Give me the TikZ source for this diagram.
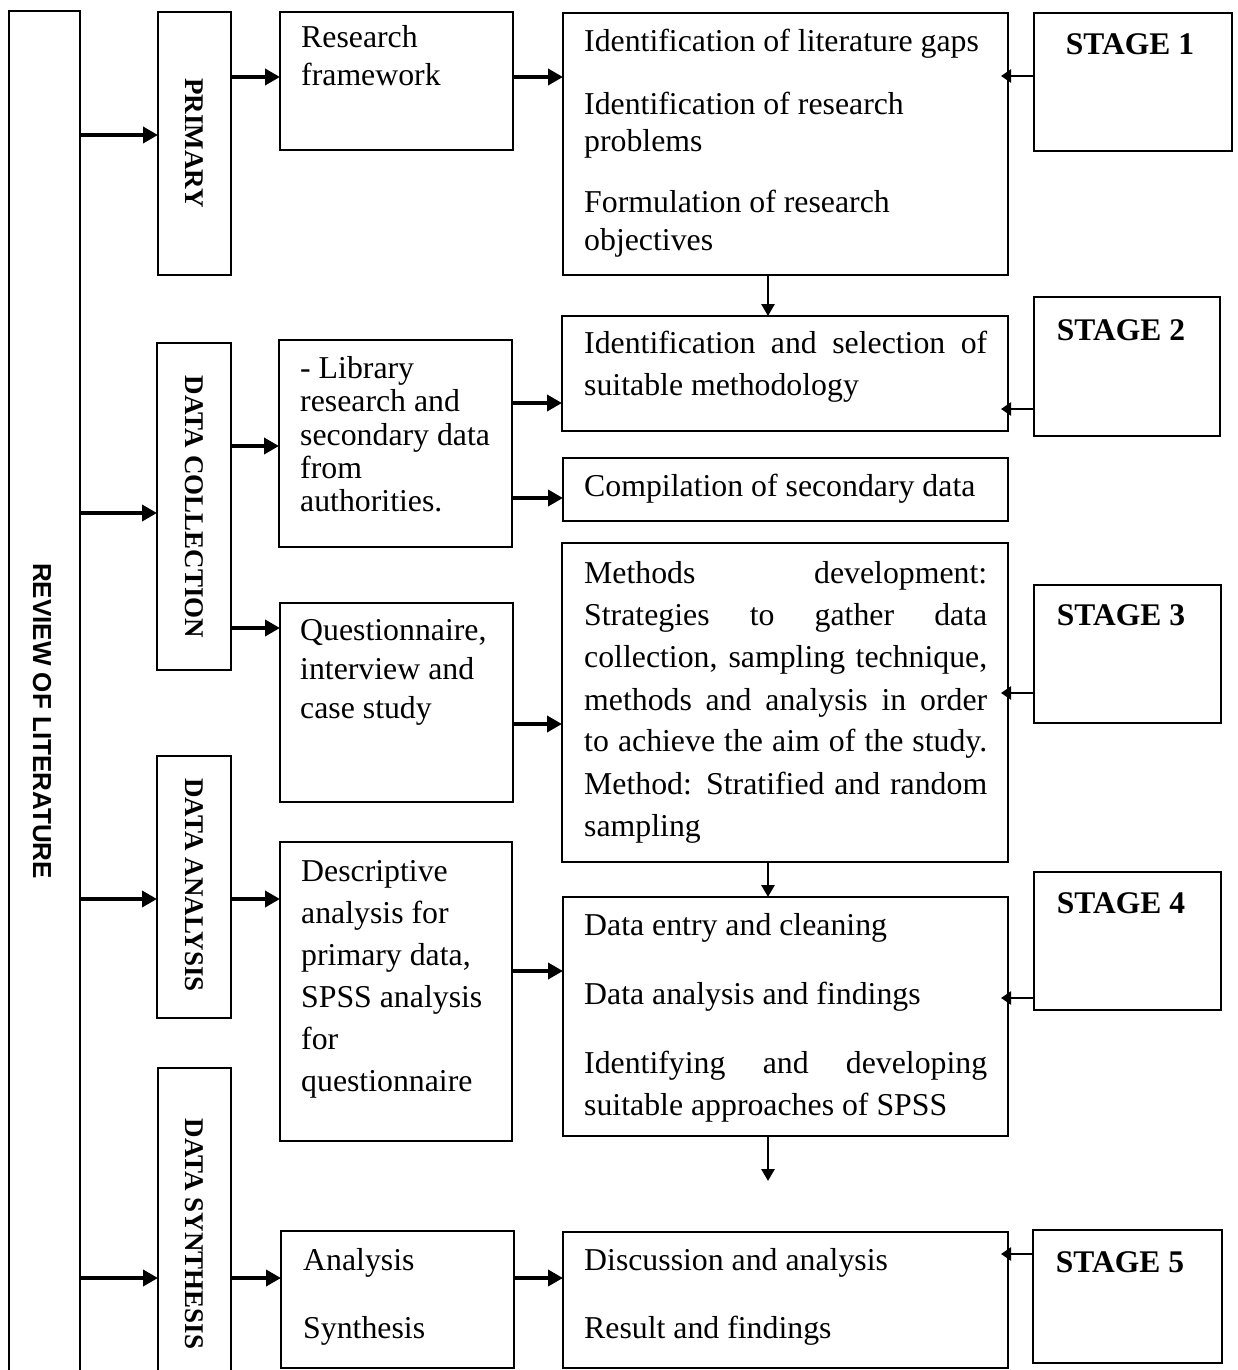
\documentclass[tikz,border=0pt]{standalone}
\usepackage{fontspec}
\setmainfont{Liberation Serif}
\newfontfamily\arialfont{Liberation Sans}
\usetikzlibrary{arrows.meta}
\begin{document}
\begin{tikzpicture}[x=1pt,y=-1pt,
  bx/.style={draw, line width=1.9pt, inner sep=0pt, outer sep=0pt},
  arr/.style={line width=3.6pt, -{Triangle[length=15pt,width=16pt]}},
  sarr/.style={line width=2.2pt, -{Triangle[length=10pt,width=13pt]}, shorten >=-7pt},
  darr/.style={line width=2.8pt, -{Triangle[length=12pt,width=13pt]}},
  txt/.style={font=\fontsize{31.8}{38}\selectfont, inner sep=0pt, anchor=west, text height=23pt, text depth=7pt},
  stg/.style={font=\bfseries\fontsize{31.5}{38}\selectfont, inner sep=0pt},
  vlab/.style={font=\bfseries\fontsize{27}{32}\selectfont, rotate=-90, inner sep=0pt},
  rlab/.style={font=\arialfont\bfseries\fontsize{26}{30}\selectfont, rotate=-90, inner sep=0pt}
]
\useasboundingbox (0,0) rectangle (1238,1370);
\fill[white] (0,0) rectangle (1238,1370);
\clip (0,0) rectangle (1238,1370);

% boxes
\node[bx, minimum width=71pt,  minimum height=1409pt] (rev)  at (44.5,715.5) {};
\node[bx, minimum width=73pt,  minimum height=263pt]  (prim) at (194.5,143.5) {};
\node[bx, minimum width=74pt,  minimum height=327pt]  (dcol) at (194,506.5) {};
\node[bx, minimum width=74pt,  minimum height=262pt]  (dana) at (194,887) {};
\node[bx, minimum width=73pt,  minimum height=352pt]  (dsyn) at (194.5,1244) {};

\node[bx, minimum width=233pt, minimum height=138pt]  (rf)   at (396.5,81) {};
\node[bx, minimum width=233pt, minimum height=207pt]  (lib)  at (395.5,443.5) {};
\node[bx, minimum width=233pt, minimum height=199pt]  (ques) at (396.5,702.5) {};
\node[bx, minimum width=232pt, minimum height=299pt]  (desc) at (396,991.5) {};
\node[bx, minimum width=233pt, minimum height=137pt]  (anl)  at (397.5,1299.5) {};

\node[bx, minimum width=445pt, minimum height=262pt]  (b1)   at (785.5,144) {};
\node[bx, minimum width=446pt, minimum height=115pt]  (b2)   at (785,373.5) {};
\node[bx, minimum width=445pt, minimum height=63pt]   (comp) at (785.5,489.5) {};
\node[bx, minimum width=446pt, minimum height=319pt]  (b3)   at (785,702.5) {};
\node[bx, minimum width=445pt, minimum height=239pt]  (b4)   at (785.5,1016.5) {};
\node[bx, minimum width=445pt, minimum height=136pt]  (b5)   at (785.5,1300) {};

\node[bx, minimum width=198pt, minimum height=138pt]  (st1)  at (1133,82) {};
\node[bx, minimum width=186pt, minimum height=139pt]  (st2)  at (1127,366.5) {};
\node[bx, minimum width=187pt, minimum height=138pt]  (st3)  at (1127.5,654) {};
\node[bx, minimum width=187pt, minimum height=138pt]  (st4)  at (1127.5,941) {};
\node[bx, minimum width=189pt, minimum height=133pt]  (st5)  at (1127.5,1296.5) {};

% vertical labels
\node[rlab] (lrev) at (42,721) {REVIEW OF LITERATURE};
\node[vlab] (lprim) at (194.5,143) {PRIMARY};
\node[vlab] (ldcol) at (194,507) {DATA COLLECTION};
\node[vlab] (ldana) at (194,885) {DATA ANALYSIS};
\node[vlab] (ldsyn) at (194.5,1234) {DATA SYNTHESIS};

% stage labels
\node[stg] (ls1) at (1130,44) {STAGE 1};
\node[stg] (ls2) at (1121,330) {STAGE 2};
\node[stg] (ls3) at (1121,615) {STAGE 3};
\node[stg] (ls4) at (1121,903) {STAGE 4};
\node[stg] (ls5) at (1120,1262) {STAGE 5};

% texts
\node[txt] (trf1) at (301,40) {Research};
\node[txt] (trf2) at (301,78) {framework};

\node[txt] (tb11) at (584,44) {Identification of literature gaps};
\node[txt] (tb12) at (584,106) {Identification of research};
\node[txt] (tb13) at (584,143) {problems};
\node[txt] (tb14) at (584,204) {Formulation of research};
\node[txt] (tb15) at (584,242) {objectives};

\node[txt] (tl1) at (300,370) {- Library};
\node[txt] (tl2) at (300,403) {research and};
\node[txt] (tl3) at (300,437) {secondary data};
\node[txt] (tl4) at (300,470) {from};
\node[txt] (tl5) at (300,503) {authorities.};

\node[txt] (tb21) at (584,345) {\makebox[403pt][s]{Identification and selection of}};
\node[txt] (tb22) at (584,387) {suitable methodology};

\node[txt] (tcomp) at (584,488) {Compilation of secondary data};

\node[txt] (tq1) at (300,632) {Questionnaire,};
\node[txt] (tq2) at (300,671) {interview and};
\node[txt] (tq3) at (300,710) {case study};

\node[txt] (tb31) at (584,575) {\makebox[403pt][s]{Methods development:}};
\node[txt] (tb32) at (584,617) {\makebox[403pt][s]{Strategies to gather data}};
\node[txt] (tb33) at (584,659) {\makebox[403pt][s]{collection, sampling technique,}};
\node[txt] (tb34) at (584,702) {\makebox[403pt][s]{methods and analysis in order}};
\node[txt] (tb35) at (584,743) {\makebox[403pt][s]{to achieve the aim of the study.}};
\node[txt] (tb36) at (584,786) {\makebox[403pt][s]{Method: Stratified and random}};
\node[txt] (tb37) at (584,828) {sampling};

\node[txt] (td1) at (301,873) {Descriptive};
\node[txt] (td2) at (301,915) {analysis for};
\node[txt] (td3) at (301,957) {primary data,};
\node[txt] (td4) at (301,999) {SPSS analysis};
\node[txt] (td5) at (301,1041) {for};
\node[txt] (td6) at (301,1083) {questionnaire};

\node[txt] (tb41) at (584,927) {Data entry and cleaning};
\node[txt] (tb42) at (584,996) {Data analysis and findings};
\node[txt] (tb43) at (584,1065) {\makebox[403pt][s]{Identifying and developing}};
\node[txt] (tb44) at (584,1107) {suitable approaches of SPSS};

\node[txt] (ta1) at (303,1262) {Analysis};
\node[txt] (ta2) at (303,1330) {Synthesis};

\node[txt] (tb51) at (584,1262) {Discussion and analysis};
\node[txt] (tb52) at (584,1330) {Result and findings};

% connectors from review column
\draw[arr] (rev.east |- 0,135)  -- (prim.west |- 0,135);
\draw[arr] (rev.east |- 0,513)  -- (dcol.west |- 0,513);
\draw[arr] (rev.east |- 0,899)  -- (dana.west |- 0,899);
\draw[arr] (rev.east |- 0,1278) -- (dsyn.west |- 0,1278);

% stage-type to detail boxes
\draw[arr] (prim.east |- 0,77)  -- (rf.west |- 0,77);
\draw[arr] (rf.east |- 0,77)    -- (b1.west |- 0,77);
\draw[arr] (dcol.east |- 0,446) -- (lib.west |- 0,446);
\draw[arr] (dcol.east |- 0,628) -- (ques.west |- 0,628);
\draw[arr] (lib.east |- 0,403)  -- (b2.west |- 0,403);
\draw[arr] (lib.east |- 0,498)  -- (comp.west |- 0,498);
\draw[arr] (ques.east |- 0,724) -- (b3.west |- 0,724);
\draw[arr] (dana.east |- 0,899) -- (desc.west |- 0,899);
\draw[arr] (desc.east |- 0,971) -- (b4.west |- 0,971);
\draw[arr] (dsyn.east |- 0,1278) -- (anl.west |- 0,1278);
\draw[arr] (anl.east |- 0,1278)  -- (b5.west |- 0,1278);

% stage arrows
\draw[sarr] (st1.west |- 0,76)   -- (b1.east |- 0,76);
\draw[sarr] (st2.west |- 0,409)  -- (b2.east |- 0,409);
\draw[sarr] (st3.west |- 0,693)  -- (b3.east |- 0,693);
\draw[sarr] (st4.west |- 0,998)  -- (b4.east |- 0,998);
\draw[sarr] (st5.west |- 0,1254) -- (b5.east |- 0,1254);

% vertical arrows
\coordinate (endb4) at (768,1181);
\draw[darr] (b1.south -| 768,0) -- (b2.north -| 768,0);
\draw[darr] (b3.south -| 768,0) -- (b4.north -| 768,0);
\draw[darr] (b4.south -| 768,0) -- (endb4);
\end{tikzpicture}
\end{document}
